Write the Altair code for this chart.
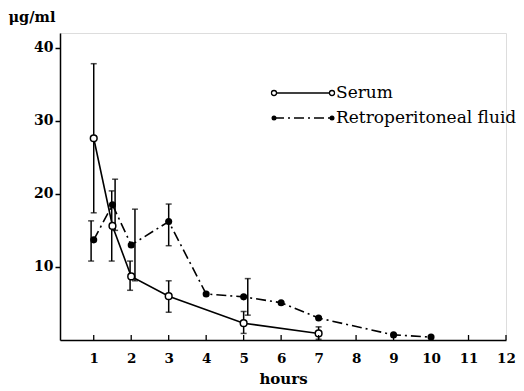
import altair as alt
import pandas as pd

# Serum (open circles, solid line)
serum_x = [1, 1.5, 2, 3, 5, 7]
serum_y = [27.6, 15.6, 8.7, 6.0, 2.3, 0.9]
serum_err_x = [1, 1.48, 1.97, 3, 5, 7]
serum_lo = [17.4, 10.8, 6.8, 3.8, 0.9, 0.1]
serum_hi = [37.8, 20.4, 10.8, 8.1, 3.9, 1.8]

# Retroperitoneal fluid (filled dots, dash-dot line)
retro_x = [1, 1.5, 2, 3, 4, 5, 6, 7, 9, 10]
retro_y = [13.7, 18.5, 13.0, 16.2, 6.3, 5.9, 5.1, 3.0, 0.7, 0.4]
retro_err_x = [0.93, 1.57, 2.1, 3, 5.11]
retro_lo = [10.8, 15.0, 8.1, 12.9, 3.4]
retro_hi = [16.3, 22.0, 17.9, 18.6, 8.4]

x_ticks = [1, 2, 3, 4, 5, 6, 7, 8, 9, 10, 11, 12]
y_ticks = [10, 20, 30, 40]
legend_labels = ["Serum", "Retroperitoneal fluid"]

FONT = "DejaVu Serif"
W, H = 446, 307

serum = pd.DataFrame({"x": serum_x, "y": serum_y})
retro = pd.DataFrame({"x": retro_x, "y": retro_y})
serr = pd.DataFrame({"x": serum_err_x, "lo": serum_lo, "hi": serum_hi})
rerr = pd.DataFrame({"x": retro_err_x, "lo": retro_lo, "hi": retro_hi})
ticks = pd.DataFrame({"x": x_ticks})
one = pd.DataFrame({"a": [0]})

xs = alt.Scale(domain=[0.1, 12], nice=False, zero=False)
ys = alt.Scale(domain=[0, 42], nice=False)

xenc = alt.X("x:Q", scale=xs, axis=alt.Axis(
    values=x_ticks, ticks=False, grid=False, domainColor="black", domainWidth=1.5,
    labelFlush=False, labelBound=False,
    labelFont=FONT, labelFontSize=13.5, labelFontWeight="bold", labelColor="black",
    labelPadding=11, title="hours", titleFont=FONT, titleFontSize=15,
    titleFontWeight="bold", titleColor="black", titlePadding=7))
yenc = alt.Y("y:Q", scale=ys, axis=alt.Axis(
    values=y_ticks, tickSize=5, tickColor="black", tickWidth=1.5, grid=False,
    domainColor="black", domainWidth=1.5,
    labelFont=FONT, labelFontSize=14, labelFontWeight="bold", labelColor="black",
    labelPadding=2, title="μg/ml", titleAngle=0, titleX=-52, titleY=-12,
    titleAlign="left", titleBaseline="alphabetic", titleFont=FONT, titleFontSize=14.5,
    titleFontWeight="bold", titleColor="black"))

base_x = alt.X("x:Q", scale=xs)

serum_line = alt.Chart(serum).mark_line(color="black", strokeWidth=1.6).encode(x=xenc, y=yenc)
retro_line = alt.Chart(retro).mark_line(color="black", strokeWidth=1.6, strokeDash=[10, 4, 2, 4]).encode(
    x=base_x, y=alt.Y("y:Q", scale=ys))

def errbars(df):
    rule = alt.Chart(df).mark_rule(color="black", strokeWidth=1.5).encode(
        x=base_x, y=alt.Y("lo:Q", scale=ys), y2="hi:Q")
    top = alt.Chart(df).mark_tick(color="black", orient="horizontal", size=6, thickness=1.5).encode(
        x=base_x, y=alt.Y("hi:Q", scale=ys))
    bot = alt.Chart(df).mark_tick(color="black", orient="horizontal", size=6, thickness=1.5).encode(
        x=base_x, y=alt.Y("lo:Q", scale=ys))
    return rule + top + bot

serum_pts = alt.Chart(serum).mark_point(shape="circle", filled=True, fill="white", stroke="black",
                                         strokeWidth=1.5, size=45, opacity=1).encode(
    x=base_x, y=alt.Y("y:Q", scale=ys))
retro_pts = alt.Chart(retro).mark_point(shape="circle", filled=True, color="black", size=50, opacity=1).encode(
    x=base_x, y=alt.Y("y:Q", scale=ys))

xticks = alt.Chart(ticks).mark_rule(color="black", strokeWidth=1.3).encode(
    x=base_x, y=alt.value(H), y2=alt.value(H - 5))

# Legend (one row each)
def legend_row(y, label, filled, dash):
    line_kw = {"strokeDash": dash} if dash else {}
    line = alt.Chart(one).mark_rule(color="black", strokeWidth=1.5, **line_kw).encode(
        x=alt.value(214), x2=alt.value(272), y=alt.value(y))
    if filled:
        pk = dict(shape="circle", filled=True, color="black", size=25, opacity=1)
    else:
        pk = dict(shape="circle", filled=True, fill="white", stroke="black", strokeWidth=1.3, size=25, opacity=1)
    p1 = alt.Chart(one).mark_point(**pk).encode(x=alt.value(214), y=alt.value(y))
    p2 = alt.Chart(one).mark_point(**pk).encode(x=alt.value(272), y=alt.value(y))
    txt = alt.Chart(one).mark_text(text=label, font=FONT, fontSize=17, align="left", baseline="middle",
                                   color="black").encode(x=alt.value(276), y=alt.value(y))
    return line + p1 + p2 + txt

chart = alt.layer(
    serum_line, retro_line, errbars(serr), errbars(rerr), serum_pts, retro_pts, xticks,
    legend_row(60, legend_labels[0], False, None),
    legend_row(85, legend_labels[1], True, [10, 4, 2, 4]),
).properties(
    width=W, height=H,
    autosize=alt.AutoSizeParams(type="none"),
    padding={"left": 52, "top": 25, "right": 10, "bottom": 50},
).configure_view(stroke=None).configure(background="white")

chart.save("out.html", embed_options={"renderer": "svg", "actions": False})
